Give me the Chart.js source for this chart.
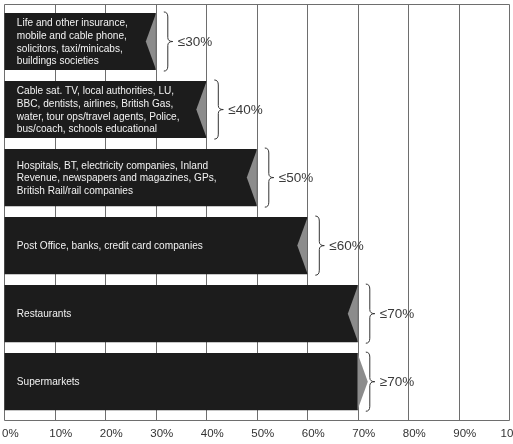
<!DOCTYPE html>
<html lang="en">
<head>
  <meta charset="UTF-8">
  <title>Sectors by share</title>
  <script src="https://cdn.jsdelivr.net/npm/chart.js"></script>
  <style>
    body { margin: 0; background: #fff; }
    #wrap { width: 513px; height: 444px; overflow: hidden; position: relative; }
    #chartSectors { position: absolute; left: -15px; top: 0; }
  </style>
</head>
<body>
  <div id="wrap"><canvas id="chartSectors" width="550" height="455"></canvas></div>

  <script>
    // one entry per bar, top to bottom
    const sectors = [
      ['Life and other insurance,', 'mobile and cable phone,', 'solicitors, taxi/minicabs,', 'buildings societies'],
      ['Cable sat. TV, local authorities, LU,', 'BBC, dentists, airlines, British Gas,', 'water, tour ops/travel agents, Police,', 'bus/coach, schools educational'],
      ['Hospitals, BT, electricity companies, Inland', 'Revenue, newspapers and magazines, GPs,', 'British Rail/rail companies'],
      ['Post Office, banks, credit card companies'],
      ['Restaurants'],
      ['Supermarkets']
    ];
    const shares = [30, 40, 50, 60, 70, 70];
    const bandLabels = ['≤30%', '≤40%', '≤50%', '≤60%', '≤70%', '≥70%'];
    const pointsOut = [false, false, false, false, false, true];
    const tickLabels = ['0%', '10%', '20%', '30%', '40%', '50%', '60%', '70%', '80%', '90%', '100%'];

    const FONT = '"Liberation Sans", Arial, sans-serif';
    const FRAME_TOP = 3.5, FRAME_BOTTOM = 4;   // frame sits a little outside the bar bands

    // frame + vertical grid, then notch / arrow, sector names, brace + band label
    const barNotes = {
      id: 'barNotes',
      beforeDatasetsDraw(chart) {
        const { ctx, chartArea, scales: { x } } = chart;
        const t = Math.round(chartArea.top - FRAME_TOP) + 0.5;
        const b = Math.round(chartArea.bottom + FRAME_BOTTOM) + 0.5;
        ctx.save();
        ctx.strokeStyle = '#6e6e6e';
        ctx.lineWidth = 1;
        ctx.beginPath();
        x.ticks.forEach(tick => {
          const px = Math.round(x.getPixelForValue(tick.value)) + 0.5;
          ctx.moveTo(px, t);
          ctx.lineTo(px, b);
        });
        ctx.moveTo(Math.round(chartArea.left) + 0.5, t);
        ctx.lineTo(Math.round(chartArea.right) + 0.5, t);
        ctx.moveTo(Math.round(chartArea.left) + 0.5, b);
        ctx.lineTo(Math.round(chartArea.right) + 0.5, b);
        ctx.stroke();
        ctx.restore();
      },
      afterDatasetsDraw(chart) {
        const { ctx, chartArea } = chart;
        const bars = chart.getDatasetMeta(0).data;
        ctx.save();
        bars.forEach((bar, i) => {
          const top = bar.y - bar.height / 2;
          const bottom = bar.y + bar.height / 2;
          const tip = bar.x + (pointsOut[i] ? 10 : -10);

          ctx.fillStyle = '#8c8c8c';
          ctx.beginPath();
          ctx.moveTo(bar.x, top + 1);
          ctx.lineTo(tip, bar.y);
          ctx.lineTo(bar.x, bottom - 1);
          ctx.closePath();
          ctx.fill();

          ctx.fillStyle = '#f2f2f2';
          ctx.font = '10.1px ' + FONT;
          ctx.textAlign = 'left';
          ctx.textBaseline = 'middle';
          const lines = sectors[i];
          lines.forEach((t, k) => {
            ctx.fillText(t, chartArea.left + 12.5, bar.y + 1 + (k - (lines.length - 1) / 2) * 12.6);
          });

          // curly brace
          const xa = bar.x + 8, xb = xa + 4, xc = xb + 5, r = 4;
          ctx.strokeStyle = '#333';
          ctx.lineWidth = 1;
          ctx.beginPath();
          ctx.moveTo(xa, top - 1);
          ctx.quadraticCurveTo(xb, top - 1, xb, top + r);
          ctx.lineTo(xb, bar.y - r);
          ctx.quadraticCurveTo(xb, bar.y, xc, bar.y);
          ctx.quadraticCurveTo(xb, bar.y, xb, bar.y + r);
          ctx.lineTo(xb, bottom - r);
          ctx.quadraticCurveTo(xb, bottom + 1, xa, bottom + 1);
          ctx.stroke();

          ctx.fillStyle = '#3a3a3a';
          ctx.font = '13.5px ' + FONT;
          ctx.fillText(bandLabels[i], xc + 5, bar.y + 1);
        });
        ctx.restore();
      }
    };

    new Chart(document.getElementById('chartSectors'), {
      type: 'bar',
      data: {
        labels: sectors.map(s => s[0]),
        datasets: [{
          data: shares,
          backgroundColor: '#1c1c1c',
          borderWidth: 0,
          categoryPercentage: 1,
          barPercentage: 0.84
        }]
      },
      options: {
        indexAxis: 'y',
        responsive: false,
        animation: false,
        events: [],
        layout: { padding: { left: 4, top: 7.5, right: 0, bottom: 3.5 } },
        plugins: { legend: { display: false }, tooltip: { enabled: false } },
        scales: {
          x: {
            type: 'linear',
            min: 0,
            max: 100,
            grid: { display: false, drawTicks: false },
            border: { display: false },
            ticks: {
              stepSize: 10,
              padding: 11,
              labelOffset: 6,
              color: '#333',
              font: { family: FONT, size: 11.5 },
              callback: (v, i) => tickLabels[i]
            }
          },
          y: { display: false }
        }
      },
      plugins: [barNotes]
    });
  </script>
</body>
</html>
